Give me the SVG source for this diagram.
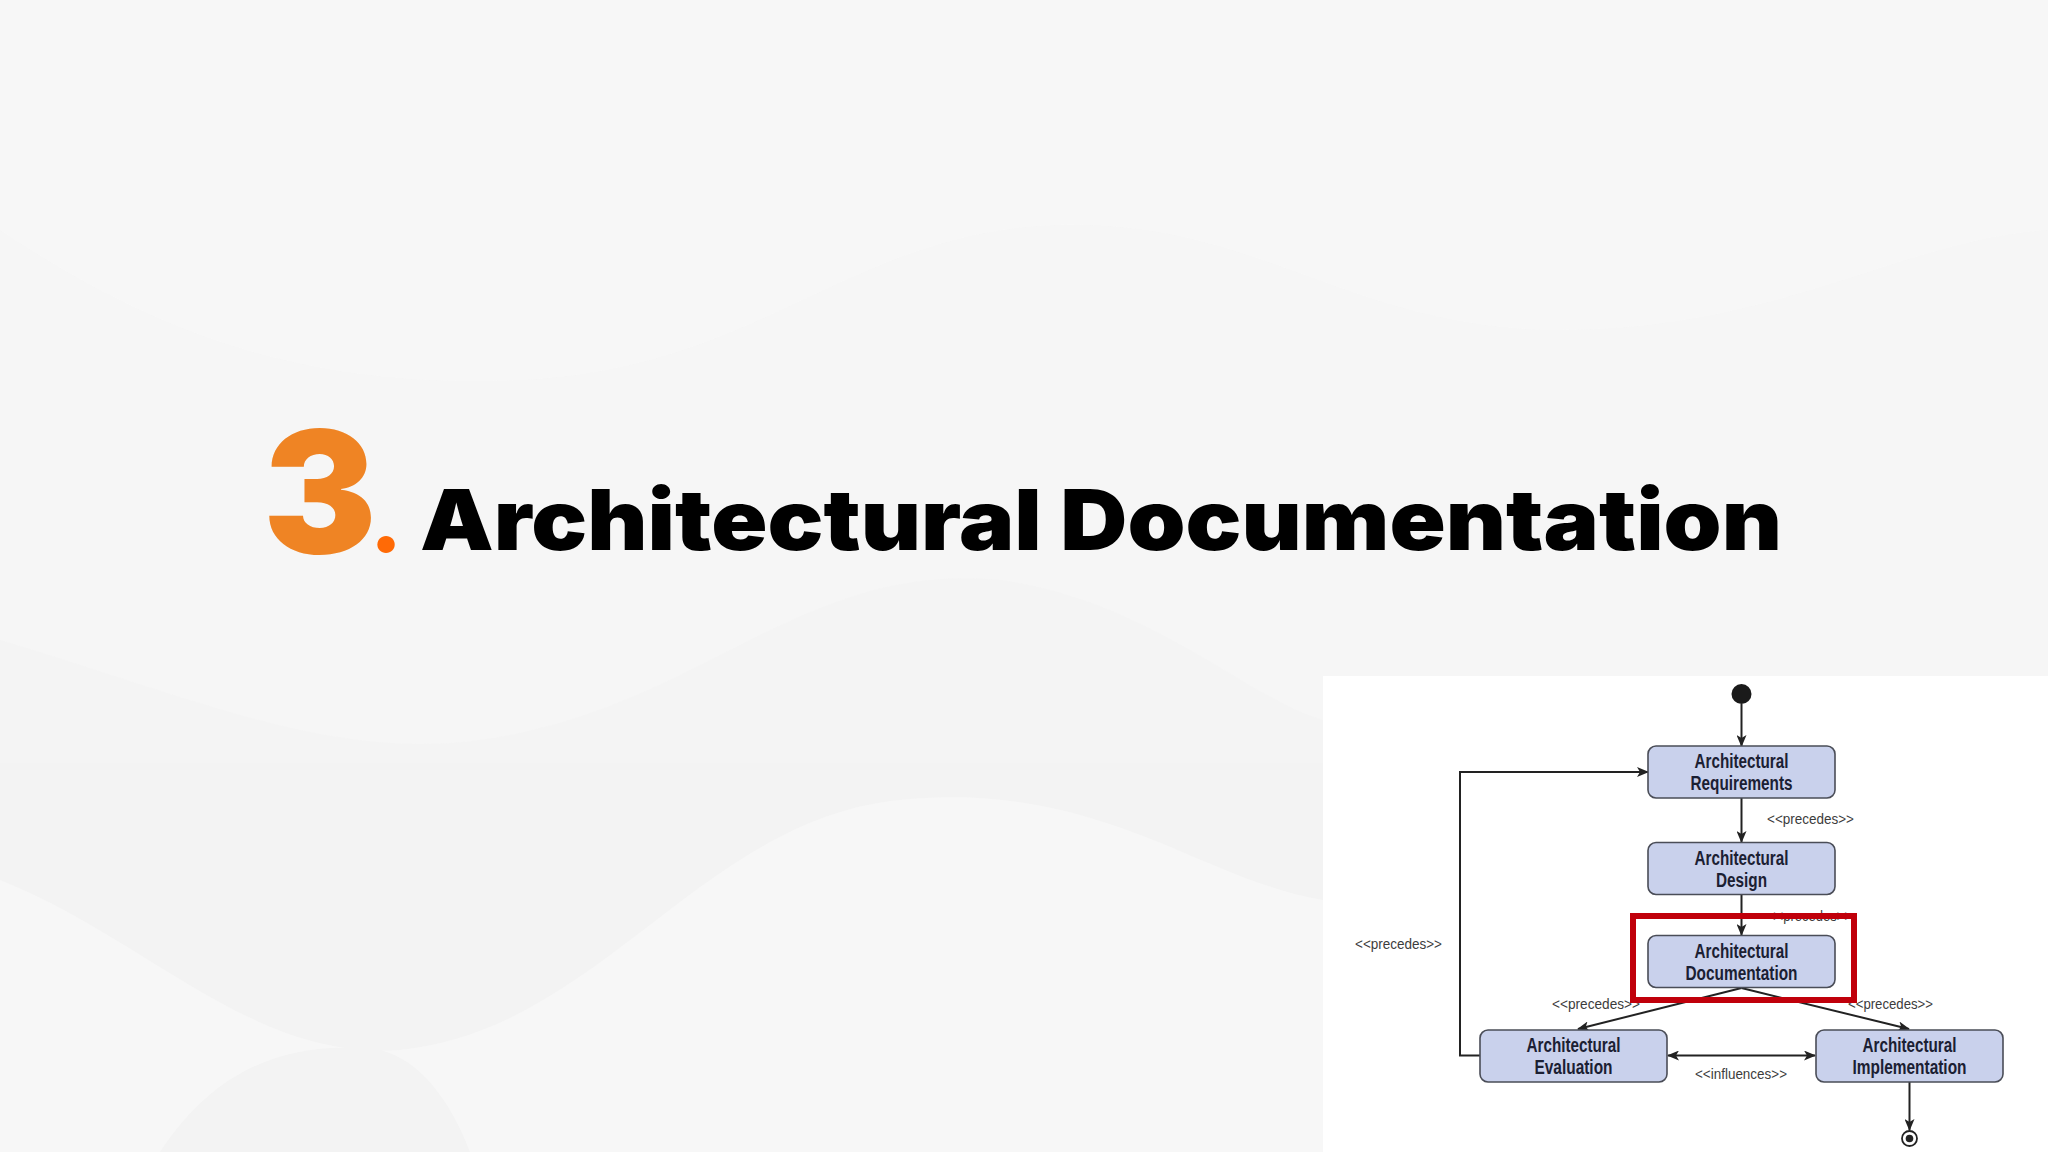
<svg xmlns="http://www.w3.org/2000/svg" width="2048" height="1152" viewBox="0 0 2048 1152">
<defs>
<style>
.title{font-family:"Inter","Roboto","Lato",sans-serif;font-weight:900;font-variant-ligatures:none;}
.box{fill:#c9d1ec;stroke:#4a4d57;stroke-width:1.6;}
.bt{font-family:"Liberation Sans",Arial,sans-serif;font-weight:bold;font-size:20px;fill:#1b2033;text-anchor:middle;}
.lbl{font-family:"Liberation Sans",Arial,sans-serif;font-size:15px;fill:#3c3c3c;}
.con{fill:none;stroke:#222;stroke-width:2;}
</style>
<marker id="arr" viewBox="0 0 12 10" refX="11" refY="5" markerWidth="12" markerHeight="10" markerUnits="userSpaceOnUse" orient="auto-start-reverse">
<path d="M0,0 L12,5 L0,10 L3,5 z" fill="#222"/>
</marker>
</defs>
<rect width="2048" height="1152" fill="#f6f6f6"/>
<g id="background-waves" opacity="0.7">
<path d="M0,230 C150,330 300,390 520,380 C760,370 850,230 1060,225 C1260,220 1350,330 1560,330 C1780,330 1900,240 2048,230 L2048,0 L0,0 Z" fill="#f8f8f8"/>
<path d="M0,640 C200,700 330,760 480,740 C700,710 800,560 1000,580 C1150,600 1250,700 1323,720 L1323,1152 L0,1152 Z" fill="#f3f3f3"/>
<path d="M0,880 C150,940 250,1060 400,1050 C600,1030 700,820 900,800 C1100,780 1200,880 1323,900 L1323,1152 L0,1152 Z" fill="#f8f8f8"/>
<path d="M160,1152 C220,1060 300,1040 380,1050 C420,1060 450,1100 470,1152 Z" fill="#f2f2f2"/>
</g>
<g id="title">
<text class="title" x="263" y="553"><tspan font-size="170" fill="#ef8424">3</tspan><tspan x="370" y="552" font-size="86" fill="#ff6a06">.</tspan><tspan x="420" y="550" font-size="84" fill="#000" textLength="1362" lengthAdjust="spacingAndGlyphs">Architectural Documentation</tspan></text>
</g>
<rect id="diagram-panel" x="1323" y="676" width="725" height="476" fill="#ffffff"/>
<g id="connectors">
<line class="con" x1="1741.5" y1="704" x2="1741.5" y2="746" marker-end="url(#arr)"/>
<line class="con" x1="1741.5" y1="798" x2="1741.5" y2="842" marker-end="url(#arr)"/>
<line class="con" x1="1741.5" y1="895" x2="1741.5" y2="935" marker-end="url(#arr)"/>
<line class="con" x1="1741.5" y1="988" x2="1578" y2="1029" marker-end="url(#arr)"/>
<line class="con" x1="1741.5" y1="988" x2="1909" y2="1029" marker-end="url(#arr)"/>
<line class="con" x1="1668" y1="1055.5" x2="1815" y2="1055.5" marker-start="url(#arr)" marker-end="url(#arr)"/>
<polyline class="con" points="1480,1055.5 1460,1055.5 1460,772 1648,772" marker-end="url(#arr)"/>
<line class="con" x1="1909.5" y1="1082" x2="1909.5" y2="1130" marker-end="url(#arr)"/>
</g>
<g id="start"><circle cx="1741.5" cy="694" r="10" fill="#1a1a1a"/></g>
<g id="end"><circle cx="1909.5" cy="1138.5" r="7.5" fill="#fff" stroke="#222" stroke-width="1.8"/><circle cx="1909.5" cy="1138.5" r="3.8" fill="#222"/></g>
<g id="node-requirements">
<rect class="box" x="1648" y="746" width="187" height="52" rx="8"/>
<text class="bt" x="1741.5" y="768" textLength="94" lengthAdjust="spacingAndGlyphs">Architectural</text>
<text class="bt" x="1741.5" y="790" textLength="102" lengthAdjust="spacingAndGlyphs">Requirements</text>
</g>
<g id="node-design">
<rect class="box" x="1648" y="842.5" width="187" height="52" rx="8"/>
<text class="bt" x="1741.5" y="864.5" textLength="94" lengthAdjust="spacingAndGlyphs">Architectural</text>
<text class="bt" x="1741.5" y="886.5" textLength="51" lengthAdjust="spacingAndGlyphs">Design</text>
</g>
<g id="node-documentation">
<rect class="box" x="1648" y="935.5" width="187" height="52" rx="8"/>
<text class="bt" x="1741.5" y="957.5" textLength="94" lengthAdjust="spacingAndGlyphs">Architectural</text>
<text class="bt" x="1741.5" y="979.5" textLength="112" lengthAdjust="spacingAndGlyphs">Documentation</text>
</g>
<g id="node-evaluation">
<rect class="box" x="1480" y="1030" width="187" height="52" rx="8"/>
<text class="bt" x="1573.5" y="1052" textLength="94" lengthAdjust="spacingAndGlyphs">Architectural</text>
<text class="bt" x="1573.5" y="1074" textLength="78" lengthAdjust="spacingAndGlyphs">Evaluation</text>
</g>
<g id="node-implementation">
<rect class="box" x="1816" y="1030" width="187" height="52" rx="8"/>
<text class="bt" x="1909.5" y="1052" textLength="94" lengthAdjust="spacingAndGlyphs">Architectural</text>
<text class="bt" x="1909.5" y="1074" textLength="114" lengthAdjust="spacingAndGlyphs">Implementation</text>
</g>
<g id="labels">
<text class="lbl" x="1767" y="824" textLength="87" lengthAdjust="spacingAndGlyphs">&lt;&lt;precedes&gt;&gt;</text>
<text class="lbl" x="1355" y="949" textLength="87" lengthAdjust="spacingAndGlyphs">&lt;&lt;precedes&gt;&gt;</text>
<text class="lbl" x="1768" y="921" textLength="84" lengthAdjust="spacingAndGlyphs">&lt;&lt;precedes&gt;&gt;</text>
<text class="lbl" x="1552" y="1009" textLength="88" lengthAdjust="spacingAndGlyphs">&lt;&lt;precedes&gt;&gt;</text>
<text class="lbl" x="1848" y="1009" textLength="85" lengthAdjust="spacingAndGlyphs">&lt;&lt;precedes&gt;&gt;</text>
<text class="lbl" x="1695" y="1079" textLength="92" lengthAdjust="spacingAndGlyphs">&lt;&lt;influences&gt;&gt;</text>
</g>
<g id="highlight">
<rect x="1633" y="916" width="221" height="84" fill="none" stroke="#c0000b" stroke-width="6"/>
</g>
</svg>
